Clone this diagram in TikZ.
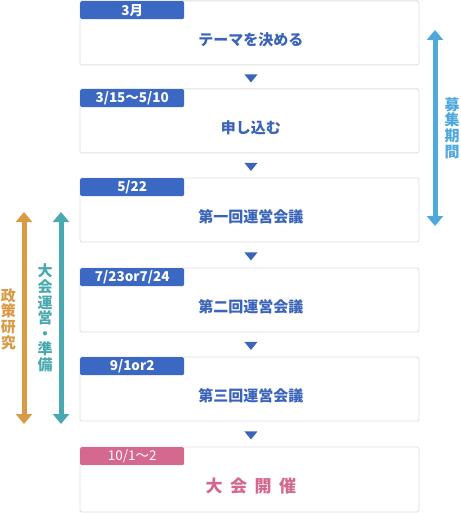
\documentclass[tikz,border=0pt]{standalone}
\usepackage{fontspec}
\newfontfamily\jp{Noto Sans CJK JP}
\usetikzlibrary{arrows.meta,calc}
\definecolor{tagblue}{HTML}{3A68C2}
\definecolor{txtblue}{HTML}{3A64BA}
\definecolor{tagpink}{HTML}{D4688F}
\definecolor{orng}{HTML}{D99A45}
\definecolor{teal}{HTML}{49A9B0}
\definecolor{lblue}{HTML}{4EA8DC}
\definecolor{bord}{HTML}{DEDEDE}
\begin{document}
\begin{tikzpicture}[x=1pt,y=-1pt,
  box/.style={draw=bord,line width=0.9pt,fill=white,rounded corners=1.5pt,minimum width=339pt,minimum height=64pt,anchor=north west,inner sep=0pt},
  tagbox/.style={fill=tagblue,text=white,rounded corners=1.5pt,minimum width=104pt,minimum height=18pt,anchor=north west,inner sep=0pt,font=\jp\bfseries\fontsize{13.5}{14}\selectfont},
  maintxt/.style={text=txtblue,font=\jp\bfseries\fontsize{15}{16}\selectfont,inner sep=0pt},
  tri/.style={fill=txtblue},
  bigarrow/.style={line width=5pt,{Triangle[width=16pt,length=10pt]}-{Triangle[width=16pt,length=10pt]}},
  vtxt/.style={align=center,inner sep=0pt,font=\jp\bfseries\fontsize{15}{15.6}\selectfont}
]
\useasboundingbox (0,0) rectangle (460,513);
% boxes
\node[box] (b1) at (79.5,0.5) {};
\node[box] (b2) at (79.5,88.5) {};
\node[box] (b3) at (79.5,177.5) {};
\node[box] (b4) at (79.5,267.5) {};
\node[box] (b5) at (79.5,356.5) {};
\node[box,minimum height=65pt] (b6) at (79.5,446.5) {};
% tags
\node[tagbox] (t1) at ($(b1.north west)+(0.5,0.5)$) {3月};
\node[tagbox] (t2) at ($(b2.north west)+(0.5,0.5)$) {3/15〜5/10};
\node[tagbox] (t3) at ($(b3.north west)+(0.5,0.5)$) {5/22};
\node[tagbox] (t4) at ($(b4.north west)+(0.5,0.5)$) {7/23or7/24};
\node[tagbox] (t5) at ($(b5.north west)+(0.5,0.5)$) {9/1or2};
\node[tagbox,fill=tagpink,font=\jp\fontsize{13.5}{14}\selectfont] (t6) at ($(b6.north west)+(0.5,0.5)$) {10/1〜2};
% main texts
\node[maintxt] (m1) at ($(b1.center)+(1.5,7)$) {テーマを決める};
\node[maintxt] (m2) at ($(b2.center)+(1.5,7)$) {申し込む};
\node[maintxt] (m3) at ($(b3.center)+(1.5,7)$) {第一回運営会議};
\node[maintxt] (m4) at ($(b4.center)+(1.5,7)$) {第二回運営会議};
\node[maintxt] (m5) at ($(b5.center)+(1.5,7)$) {第三回運営会議};
\node[maintxt,text=tagpink,font=\jp\bfseries\fontsize{17}{18}\selectfont] (m6) at ($(b6.center)+(1.5,7)$) {大\hspace{7.5pt}会\hspace{7.5pt}開\hspace{7.5pt}催};
% small triangles
\foreach \a/\b in {b1/b2,b2/b3,b3/b4,b4/b5,b5/b6}{
  \path (\a.south) -- (\b.north) coordinate[midway] (mid);
  \fill[tri] ($(mid)+(-5,-2.5)$) -- ($(mid)+(8,-2.5)$) -- ($(mid)+(1.5,5.5)$) -- cycle;
}
% big arrows
\coordinate (r1) at (435,30);
\coordinate (r2) at (435,226);
\draw[bigarrow,lblue] (r1) -- (r2);
\node[vtxt,text=lblue] (rt) at (452,128) {募\\集\\期\\間};
\coordinate (o1) at (24,212);
\coordinate (o2) at (24,424);
\draw[bigarrow,orng] (o1) -- (o2);
\node[vtxt,text=orng] (ot) at (8.5,319) {政\\策\\研\\究};
\coordinate (g1) at (61,212);
\coordinate (g2) at (61,424);
\draw[bigarrow,teal] (g1) -- (g2);
\node[vtxt,text=teal] (gt) at (45,318) {大\\会\\運\\営\\・\\準\\備};
\end{tikzpicture}
\end{document}
